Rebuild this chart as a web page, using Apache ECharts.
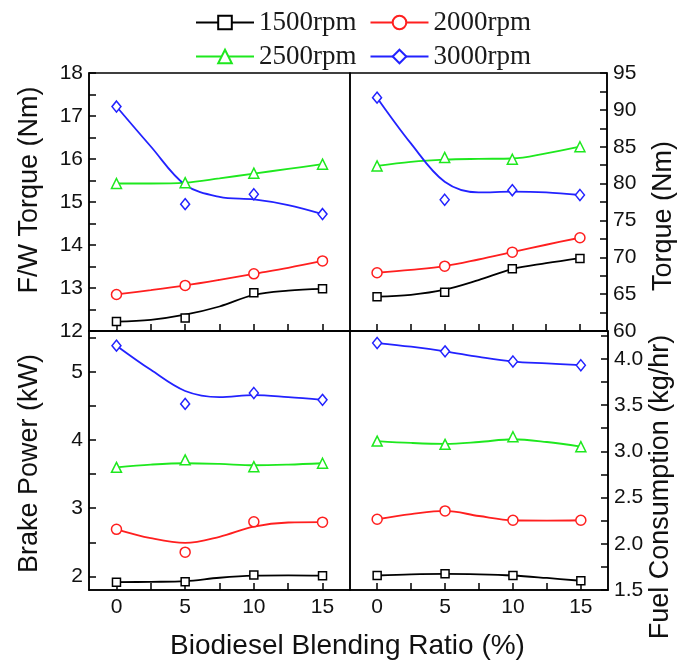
<!DOCTYPE html>
<html>
<head>
<meta charset="utf-8">
<script src="https://cdn.jsdelivr.net/npm/echarts@6/dist/echarts.min.js"></script>
<style>
  html, body { margin: 0; padding: 0; background: #fff; }
  #chart { width: 678px; height: 663px; }
</style>
</head>
<body>
<div id="chart"></div>
<script>
// --- data ---
const blendRatio = [0, 5, 10, 15];
const fitRatio = [0, 2.5, 5, 7.5, 10, 12.5, 15];
const speedNames = ['1500rpm', '2000rpm', '2500rpm', '3000rpm'];

// measured points, one row per engine speed
const fwTorque = [[12.22, 12.30, 12.89, 12.98], [12.85, 13.06, 13.33, 13.63], [15.43, 15.45, 15.67, 15.88], [17.22, 14.95, 15.18, 14.72]];
const torque = [[64.65, 65.25, 68.45, 69.85], [67.9, 68.8, 70.7, 72.65], [82.4, 83.55, 83.3, 85.0], [91.65, 77.8, 79.1, 78.45]];
const brakePower = [[1.915, 1.92, 2.02, 2.01], [2.69, 2.355, 2.80, 2.795], [3.60, 3.71, 3.61, 3.66], [5.385, 4.53, 4.69, 4.59]];
const fuelUse = [[1.657, 1.675, 1.657, 1.60], [2.265, 2.355, 2.254, 2.254], [3.11, 3.075, 3.157, 3.05], [4.17, 4.08, 3.97, 3.93]];

// fitted curves (read at fitRatio)
const fwTorqueFit = [[12.22, 12.26, 12.38, 12.57, 12.84, 12.94, 12.98], [12.85, 12.95, 13.06, 13.19, 13.33, 13.47, 13.63], [15.43, 15.43, 15.45, 15.55, 15.66, 15.77, 15.88], [17.22, 16.29, 15.40, 15.12, 15.06, 14.93, 14.72]];
const torqueFit = [[64.65, 64.9, 65.6, 66.9, 68.4, 69.2, 69.9], [67.9, 68.3, 68.8, 69.7, 70.7, 71.7, 72.65], [82.4, 82.95, 83.25, 83.35, 83.4, 84.1, 85.0], [91.65, 85.45, 80.25, 78.8, 78.9, 78.8, 78.45]];
const brakePowerFit = [[1.915, 1.92, 1.93, 1.98, 2.01, 2.015, 2.01], [2.69, 2.56, 2.49, 2.58, 2.73, 2.79, 2.795], [3.60, 3.64, 3.66, 3.65, 3.63, 3.64, 3.66], [5.385, 5.03, 4.72, 4.63, 4.66, 4.63, 4.59]];
const fuelUseFit = [[1.657, 1.67, 1.675, 1.67, 1.657, 1.63, 1.60], [2.265, 2.32, 2.355, 2.30, 2.254, 2.25, 2.254], [3.11, 3.09, 3.08, 3.10, 3.13, 3.10, 3.05], [4.17, 4.13, 4.08, 4.02, 3.97, 3.95, 3.93]];

// tick labels / tick marks
const xLabels = [0, 5, 10, 15];
const xTicks = [0, 2.5, 5, 7.5, 10, 12.5, 15];
const fwLabels = [12, 13, 14, 15, 16, 17, 18];
const fwTicks = [12, 12.5, 13, 13.5, 14, 14.5, 15, 15.5, 16, 16.5, 17, 17.5, 18];
const torqueLabels = [60, 65, 70, 75, 80, 85, 90, 95];
const torqueTicks = [60, 62.5, 65, 67.5, 70, 72.5, 75, 77.5, 80, 82.5, 85, 87.5, 90, 92.5, 95];
const powerLabels = [2, 3, 4, 5];
const powerTicks = [2, 2.5, 3, 3.5, 4, 4.5, 5, 5.5];
const fuelLabels = [1.5, 2.0, 2.5, 3.0, 3.5, 4.0];
const fuelTicks = [1.5, 1.75, 2.0, 2.25, 2.5, 2.75, 3.0, 3.25, 3.5, 3.75, 4.0, 4.25];

const colors = ['#000000', '#ff1f1f', '#1ee81e', '#2222ff'];
const legendSymbols = ['emptyRect', 'emptyCircle', 'emptyTriangle', 'emptyDiamond'];
const symbols = ['rect', 'circle', 'triangle', 'diamond'];
const symbolSizes = [8, 10, 10, [9, 11]];

const sans = 'Liberation Sans, Arial, sans-serif';
const serif = 'Liberation Serif, Times New Roman, serif';

const chart = echarts.init(document.getElementById('chart'), null, { renderer: 'canvas' });

// panel boxes
const grids = [
  { left: 89, top: 73, width: 261, height: 258 },
  { left: 350, top: 73, width: 258, height: 258 },
  { left: 89, top: 331, width: 261, height: 259 },
  { left: 350, top: 331, width: 258, height: 259 }
].map(g => Object.assign({ show: true, borderColor: '#000', borderWidth: 1.5 }, g));

const panels = [
  { pts: fwTorque, fit: fwTorqueFit, min: 12, max: 18, labels: fwLabels, ticks: fwTicks, pos: 'left',
    name: 'F/W Torque (Nm)', gap: 46, pad: [0, 0, 0, 24], fmt: v => String(v) },
  { pts: torque, fit: torqueFit, min: 60, max: 95, labels: torqueLabels, ticks: torqueTicks, pos: 'right',
    name: 'Torque (Nm)', gap: 43, pad: [0, 28, 0, 0], fmt: v => String(v) },
  { pts: brakePower, fit: brakePowerFit, min: 1.8, max: 5.6, labels: powerLabels, ticks: powerTicks, pos: 'left',
    name: 'Brake Power (kW)', gap: 46, pad: [0, 6, 0, 0], fmt: v => String(v) },
  { pts: fuelUse, fit: fuelUseFit, min: 1.5, max: 4.3, labels: fuelLabels, ticks: fuelTicks, pos: 'right',
    name: 'Fuel Consumption (kg/hr)', gap: 34, pad: [0, 53, 0, 0], fmt: v => v.toFixed(1) }
];

const tickStyle = { color: '#000', width: 1.5 };

const xAxis = panels.map((p, i) => ({
  gridIndex: i, type: 'value', min: -2, max: 17, position: 'bottom',
  axisLine: { show: true, onZero: false, lineStyle: { color: '#000', width: 1.5 } },
  axisTick: { show: true, inside: true, length: 7, customValues: xTicks, lineStyle: tickStyle },
  axisLabel: { show: i >= 2, customValues: xLabels, fontSize: 21, fontFamily: sans, color: '#111', margin: 7 },
  splitLine: { show: false },
  name: (i === 2) ? 'Biodiesel Blending Ratio (%)' : '',
  nameLocation: 'middle', nameGap: 42,
  nameTextStyle: { fontSize: 28, fontFamily: sans, color: '#111', padding: [0, 0, 0, 256] }
}));

const yAxis = panels.map((p, i) => ({
  gridIndex: i, type: 'value', min: p.min, max: p.max, position: p.pos,
  axisLine: { show: true, onZero: false, lineStyle: { color: '#000', width: 1.5 } },
  axisTick: { show: true, inside: true, length: 7, customValues: p.ticks, lineStyle: tickStyle },
  axisLabel: { customValues: p.labels, formatter: p.fmt, fontSize: 21, fontFamily: sans, color: '#111', margin: 6 },
  splitLine: { show: false },
  name: p.name, nameLocation: 'middle', nameGap: p.gap, nameRotate: 90,
  nameTextStyle: { fontSize: 27, fontFamily: sans, color: '#111', padding: p.pad }
}));

const series = [];
// fitted curves first (the legend takes its icon from them)
panels.forEach((p, i) => {
  speedNames.forEach((name, s) => {
    series.push({
      name: name, type: 'line', xAxisIndex: i, yAxisIndex: i,
      data: fitRatio.map((x, k) => [x, p.fit[s][k]]),
      smooth: 0.35, showSymbol: false, symbol: legendSymbols[s],
      lineStyle: { color: colors[s], width: 1.8 },
      itemStyle: { color: colors[s] },
      silent: true, z: 2
    });
  });
});
// measured markers
panels.forEach((p, i) => {
  speedNames.forEach((name, s) => {
    series.push({
      name: name, type: 'scatter', xAxisIndex: i, yAxisIndex: i,
      data: blendRatio.map((x, k) => [x, p.pts[s][k]]),
      symbol: symbols[s], symbolSize: symbolSizes[s],
      itemStyle: { color: '#fff', borderColor: colors[s], borderWidth: 1.5, opacity: 1 },
      silent: true, z: 3
    });
  });
});

const legendBase = {
  itemWidth: 58, itemHeight: 17, itemGap: 13,
  textStyle: { fontSize: 27, fontFamily: serif, color: '#1a1a1a' },
  selectedMode: false
};

chart.setOption({
  animation: false,
  backgroundColor: '#fff',
  legend: [
    Object.assign({ left: 190, top: 4, data: speedNames.slice(0, 2) }, legendBase),
    Object.assign({ left: 190, top: 38, data: speedNames.slice(2, 4) }, legendBase)
  ],
  grid: grids,
  xAxis: xAxis,
  yAxis: yAxis,
  series: series
});
</script>
</body>
</html>
